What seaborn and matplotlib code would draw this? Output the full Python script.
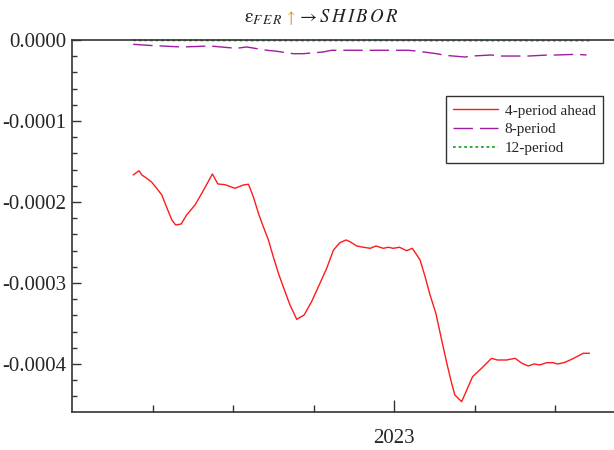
import numpy as np
import pandas as pd
import matplotlib
matplotlib.use("Agg")
import matplotlib.pyplot as plt
import seaborn as sns
from matplotlib.ticker import FixedLocator, MultipleLocator, FuncFormatter
from matplotlib.offsetbox import TextArea, HPacker, AnchoredOffsetbox
from matplotlib.lines import Line2D

# Time axis in decimal years; responses in units of 1e-4
t_4 = [2022.190, 2022.208, 2022.217, 2022.232, 2022.248, 2022.263, 2022.279, 2022.289,
       2022.310, 2022.322, 2022.339, 2022.356, 2022.382, 2022.403, 2022.423, 2022.436,
       2022.453, 2022.475, 2022.506, 2022.532, 2022.548, 2022.563, 2022.579, 2022.594,
       2022.610, 2022.625, 2022.641, 2022.656, 2022.677, 2022.698, 2022.721, 2022.744,
       2022.770, 2022.791, 2022.812, 2022.832, 2022.851, 2022.863, 2022.884, 2022.905,
       2022.926, 2022.944, 2022.967, 2022.982, 2022.998, 2023.017, 2023.039, 2023.057,
       2023.081, 2023.096, 2023.112, 2023.130, 2023.148, 2023.164, 2023.179, 2023.189,
       2023.210, 2023.226, 2023.244, 2023.272, 2023.303, 2023.321, 2023.350, 2023.376,
       2023.397, 2023.417, 2023.435, 2023.453, 2023.474, 2023.495, 2023.507, 2023.528,
       2023.552, 2023.572, 2023.588, 2023.607]
resp_4 = [-1.667, -1.614, -1.667, -1.707, -1.757, -1.831, -1.914, -2.016,
          -2.222, -2.284, -2.272, -2.160, -2.037, -1.893, -1.749, -1.654,
          -1.778, -1.786, -1.831, -1.790, -1.781, -1.935, -2.140, -2.305,
          -2.469, -2.675, -2.880, -3.046, -3.272, -3.449, -3.395, -3.231,
          -3.004, -2.819, -2.593, -2.502, -2.469, -2.490, -2.543, -2.559,
          -2.572, -2.543, -2.572, -2.559, -2.572, -2.559, -2.601, -2.572,
          -2.716, -2.914, -3.148, -3.374, -3.704, -3.991, -4.238, -4.383,
          -4.465, -4.321, -4.157, -4.053, -3.930, -3.951, -3.951, -3.930,
          -3.991, -4.025, -4.000, -4.012, -3.984, -3.984, -4.000, -3.984,
          -3.942, -3.901, -3.868, -3.868]

t_8 = [2022.190, 2022.237, 2022.279, 2022.340, 2022.366, 2022.429, 2022.454, 2022.511,
       2022.542, 2022.605, 2022.630, 2022.687, 2022.718, 2022.780, 2022.806, 2022.863,
       2022.894, 2022.957, 2022.982, 2023.044, 2023.070, 2023.132, 2023.158, 2023.220,
       2023.241, 2023.303, 2023.329, 2023.391, 2023.417, 2023.479, 2023.505, 2023.567,
       2023.598]
resp_8 = [-0.053, -0.066, -0.074, -0.086, -0.083, -0.074, -0.083, -0.103,
          -0.086, -0.127, -0.136, -0.169, -0.169, -0.148, -0.127, -0.127,
          -0.127, -0.127, -0.127, -0.127, -0.136, -0.169, -0.189, -0.210,
          -0.198, -0.185, -0.198, -0.198, -0.198, -0.185, -0.185, -0.177,
          -0.185]

t_12 = [2022.190, 2022.300, 2022.420, 2022.540, 2022.660, 2022.780, 2022.900,
        2023.020, 2023.140, 2023.260, 2023.380, 2023.500, 2023.607]
resp_12 = [-0.004, -0.005, -0.005, -0.006, -0.006, -0.006, -0.006,
           -0.006, -0.007, -0.007, -0.007, -0.007, -0.007]

labels = ["4-period ahead", "8-period", "12-period"]
colors = ["#ff1a1a", "#a01ca0", "#1fa81f"]

sns.set_style("ticks")
plt.rcParams["font.family"] = ["Liberation Serif", "DejaVu Serif"]
plt.rcParams["mathtext.fontset"] = "stix"

fig = plt.figure(figsize=(6.14, 4.5), dpi=100)
ax = fig.add_axes([72 / 614, 1 - 412 / 450, 1 - 72 / 614, (412 - 40) / 450])

scale = 1e-4
df4 = pd.DataFrame({"t": t_4, "v": np.array(resp_4) * scale})
df8 = pd.DataFrame({"t": t_8, "v": np.array(resp_8) * scale})
df12 = pd.DataFrame({"t": t_12, "v": np.array(resp_12) * scale})

sns.lineplot(data=df4, x="t", y="v", ax=ax, color=colors[0], lw=1.0, estimator=None)
sns.lineplot(data=df8, x="t", y="v", ax=ax, color=colors[1], lw=1.0, estimator=None)
ax.lines[-1].set_dashes((14, 5))
sns.lineplot(data=df12, x="t", y="v", ax=ax, color=colors[2], lw=1.3, estimator=None)
ax.lines[-1].set_dashes((1.5, 1.6))
ax.lines[-1].set_clip_on(False)

ax.set_xlim(2022.0, 2022.0 + 542 / 322)
ax.set_ylim(-0.0004593, 0.0)

ax.xaxis.set_major_locator(FixedLocator([2023]))
ax.xaxis.set_major_formatter(FuncFormatter(lambda v, p: f"{int(round(v))}"))
ax.xaxis.set_minor_locator(FixedLocator([2022.25, 2022.5, 2022.75, 2023.25, 2023.5]))
ax.yaxis.set_major_locator(MultipleLocator(0.0001))
ax.yaxis.set_minor_locator(MultipleLocator(0.00002))
ax.yaxis.set_major_formatter(FuncFormatter(lambda v, p: f"{v:.4f}" if abs(v) > 1e-12 else "0.0000"))

ax.tick_params(axis="both", which="both", direction="in", color="#333333", width=1.0)
ax.tick_params(axis="y", which="major", length=6.5, labelsize=15, pad=4)
ax.tick_params(axis="y", which="minor", length=3.5)
ax.tick_params(axis="x", which="major", length=9, labelsize=15, pad=12)
ax.tick_params(axis="x", which="minor", length=5)

ax.set_xlabel("")
ax.set_ylabel("")
for side in ["left", "bottom", "top"]:
    ax.spines[side].set_color("#333333")
    ax.spines[side].set_linewidth(1.2)
ax.spines["right"].set_visible(False)

handles = [
    Line2D([], [], color=colors[0], lw=1.0),
    Line2D([], [], color=colors[1], lw=1.0, dashes=(14, 5)),
    Line2D([], [], color=colors[2], lw=1.3, dashes=(1.5, 1.6)),
]
leg = ax.legend(handles, labels, loc="upper right", bbox_to_anchor=(0.980, 0.849),
                borderaxespad=0, fancybox=False, framealpha=1, edgecolor="#333333",
                fontsize=11, handlelength=2.9, handletextpad=0.45, labelspacing=0.33,
                borderpad=0.5)
leg.get_frame().set_linewidth(1.0)

# Title assembled from pieces so the arrow can carry its own colour
title_parts = [
    TextArea(r"$\mathrm{\varepsilon}_{F\,E\,R}$", textprops=dict(fontsize=14, color="#222222")),
    TextArea(r"$\uparrow$", textprops=dict(fontsize=12, color="#e8912b")),
    TextArea(r"$\rightarrow S\,H\,I\,B\,O\,R$", textprops=dict(fontsize=13.5, color="#222222")),
]
title_box = HPacker(children=title_parts, align="baseline", pad=0, sep=1)
fig.add_artist(AnchoredOffsetbox(loc="center", child=title_box, pad=0, borderpad=0,
                                 frameon=False, bbox_to_anchor=(321 / 614, 1 - 18 / 450),
                                 bbox_transform=fig.transFigure))

fig.savefig("out.png", dpi=100)
